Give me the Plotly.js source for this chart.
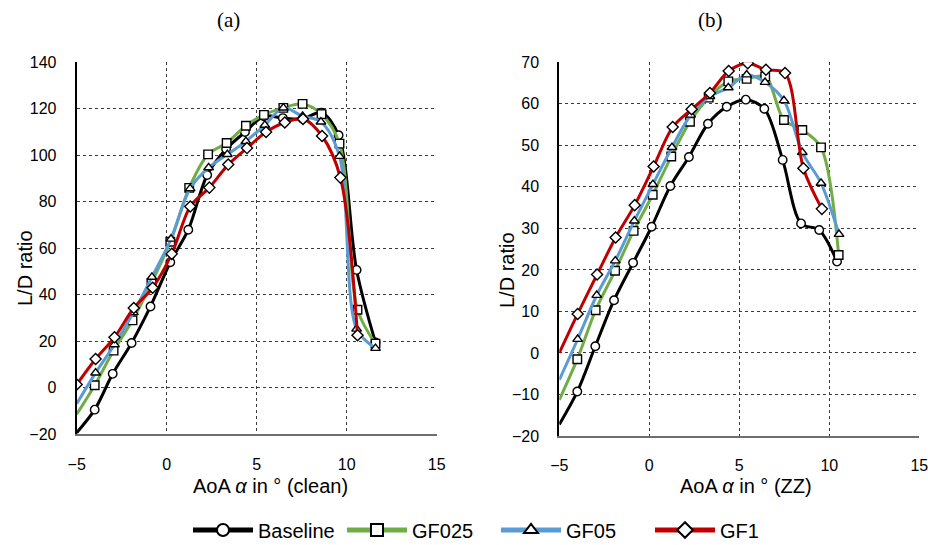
<!DOCTYPE html>
<html>
<head>
<meta charset="utf-8">
<script src="https://cdn.plot.ly/plotly-3.0.1.min.js"></script>
<style>html,body{margin:0;padding:0;background:#fff;}#chart{width:928px;height:545px;}</style>
</head>
<body>
<div id="chart"></div>
<script>
// ---- (a) clean ----
const cleanBaseX = [-5, -4, -3, -1.95, -0.9, 0.2, 1.2, 2.25, 3.3, 4.35, 5.4, 6.45, 7.55, 8.6, 9.55, 10.55, 11.6];
const cleanBaseY = [-19.3, -9.4, 6.0, 19.3, 35.0, 54.0, 68.0, 91.5, 102.7, 110.0, 116.8, 116.0, 115.7, 118.3, 108.6, 50.7, 19.5];
const cleanGF025X = [-5, -4, -2.95, -1.9, -0.85, 0.2, 1.25, 2.3, 3.33, 4.4, 5.4, 6.48, 7.55, 8.6, 9.6, 10.6, 11.6];
const cleanGF025Y = [-11.4, 1.1, 16.0, 29.0, 45.0, 62.8, 86.0, 100.4, 105.3, 112.7, 117.4, 120.4, 122.1, 117.7, 105.0, 33.6, 19.0];
const cleanGF05X = [-5, -3.95, -2.9, -1.85, -0.82, 0.24, 1.3, 2.33, 3.37, 4.4, 5.45, 6.48, 7.55, 8.57, 9.6, 10.55, 11.6];
const cleanGF05Y = [-6.9, 6.4, 18.6, 32.4, 47.6, 64.0, 85.7, 94.7, 100.4, 106.0, 113.0, 120.4, 116.8, 114.4, 99.6, 25.3, 17.0];
const cleanGF1X = [-5, -3.95, -2.9, -1.83, -0.78, 0.28, 1.31, 2.37, 3.42, 4.46, 5.52, 6.56, 7.57, 8.63, 9.65, 10.6];
const cleanGF1Y = [1.4, 12.4, 21.7, 34.3, 43.0, 57.6, 78.0, 86.1, 96.0, 103.1, 110.0, 114.1, 115.6, 108.3, 90.4, 22.6];

// ---- (b) ZZ ----
const zzBaseX = [-5, -4, -3, -1.96, -0.9, 0.13, 1.17, 2.2, 3.26, 4.3, 5.36, 6.39, 7.41, 8.43, 9.44, 10.43];
const zzBaseY = [-17.2, -9.3, 1.6, 12.7, 21.7, 30.4, 40.2, 47.2, 55.2, 59.3, 61.0, 58.8, 46.5, 31.2, 29.6, 22.0];
const zzGF025X = [-5, -4, -2.98, -1.9, -0.87, 0.19, 1.22, 2.26, 3.3, 4.39, 5.41, 6.44, 7.48, 8.5, 9.54, 10.52];
const zzGF025Y = [-11.3, -1.5, 10.3, 19.8, 29.4, 38.1, 47.3, 55.7, 61.5, 65.4, 66.0, 66.6, 56.1, 53.7, 49.5, 23.6];
const zzGF05X = [-5, -3.98, -2.92, -1.89, -0.83, 0.2, 1.26, 2.3, 3.37, 4.39, 5.41, 6.43, 7.48, 8.5, 9.54, 10.54];
const zzGF05Y = [-6.5, 3.3, 13.9, 22.2, 31.8, 40.6, 49.5, 57.3, 61.8, 63.9, 67.0, 65.2, 60.8, 48.3, 40.9, 28.6];
const zzGF1X = [-5, -3.98, -2.9, -1.87, -0.81, 0.24, 1.3, 2.35, 3.37, 4.41, 5.47, 6.48, 7.54, 8.56, 9.59];
const zzGF1Y = [0, 9.4, 18.9, 27.8, 35.6, 44.9, 54.4, 58.7, 62.6, 67.9, 69.8, 68.2, 67.4, 44.5, 34.7];

const seriesNames = ["Baseline", "GF025", "GF05", "GF1"];
const seriesColors = ["#000000", "#70AD47", "#5B9BD5", "#C00000"];
const seriesSymbols = ["circle", "square", "triangle-up", "diamond"];

const FONT = "Liberation Sans, Arial, sans-serif";

function sizes(n, hideFirst) {
  const s = [];
  for (let i = 0; i < n; i++) s.push(i === 0 && hideFirst ? 0 : 8.5);
  return s;
}

function mk(x, y, k, xa, ya, legend, hideFirst) {
  return {
    x: x, y: y, xaxis: xa, yaxis: ya,
    type: "scatter", mode: "lines+markers",
    name: seriesNames[k], showlegend: legend, legendgroup: seriesNames[k],
    line: {color: seriesColors[k], width: 3, shape: "spline", smoothing: 0.9},
    marker: {symbol: seriesSymbols[k], size: sizes(x.length, hideFirst), color: "rgb(255,255,255)",
             opacity: 1, line: {color: "#000000", width: 1.4}},
    cliponaxis: true
  };
}

const data = [
  mk(cleanBaseX, cleanBaseY, 0, "x", "y", true, true),
  mk(cleanGF025X, cleanGF025Y, 1, "x", "y", true, true),
  mk(cleanGF05X, cleanGF05Y, 2, "x", "y", true, true),
  mk(cleanGF1X, cleanGF1Y, 3, "x", "y", true, false),
  mk(zzBaseX, zzBaseY, 0, "x2", "y2", false, true),
  mk(zzGF025X, zzGF025Y, 1, "x2", "y2", false, true),
  mk(zzGF05X, zzGF05Y, 2, "x2", "y2", false, true),
  mk(zzGF1X, zzGF1Y, 3, "x2", "y2", false, true)
];

const W = 928, H = 545;
const px = v => v / W;
const py = v => 1 - v / H;

function xax(domain, anchor) {
  return {
    domain: domain, anchor: anchor, range: [-5, 15], dtick: 5, tick0: 0,
    showgrid: true, gridcolor: "#3a3a3a", griddash: "dot", gridwidth: 1,
    zeroline: false, showline: true, linecolor: "#6e6e6e", linewidth: 2,
    ticks: "", ticklabelstandoff: 14, ticklabeloverflow: "allow",
    tickfont: {family: FONT, size: 16, color: "#000"}
  };
}
function yax(domain, anchor, range, dtick) {
  return {
    domain: domain, anchor: anchor, range: range, dtick: dtick,
    showgrid: true, gridcolor: "#3a3a3a", griddash: "dot", gridwidth: 1,
    zeroline: false, showline: true, linecolor: "#000", linewidth: 2,
    ticks: "", ticklabelstandoff: 15, ticklabeloverflow: "allow",
    tickfont: {family: FONT, size: 16, color: "#000"}
  };
}

function ann(text, x, y, size, family, angle) {
  return {text: text, x: px(x), y: py(y), xref: "paper", yref: "paper", showarrow: false,
          xanchor: "center", yanchor: "middle", textangle: angle || 0,
          font: {family: family || FONT, size: size, color: "#000"}};
}

const SERIF = "Liberation Serif, Times New Roman, serif";

const layout = {
  width: W, height: H,
  margin: {l: 0, r: 0, t: 0, b: 0, autoexpand: false},
  paper_bgcolor: "#fff", plot_bgcolor: "#fff",
  font: {family: FONT, color: "#000"},
  xaxis: xax([px(76.7), px(436.7)], "y"),
  yaxis: yax([py(434.3), py(62.3)], "x", [-20, 140], 20),
  xaxis2: xax([px(559.3), px(919.3)], "y2"),
  yaxis2: yax([py(436), py(62.3)], "x2", [-20, 70], 10),
  showlegend: true,
  legend: {orientation: "h", x: px(188), xanchor: "left", y: py(530), yanchor: "middle",
           font: {family: FONT, size: 20, color: "#000"}, itemwidth: 60, entrywidth: 79,
           itemsizing: "constant", bgcolor: "rgba(0,0,0,0)"},
  annotations: [
    ann("(a)", 228, 20, 21, SERIF),
    ann("(b)", 710, 20, 21, SERIF),
    ann("AoA <i>α</i> in ° (clean)", 270, 486, 20),
    ann("AoA <i>α</i> in ° (ZZ)", 746, 486, 20),
    ann("L/D ratio", 25, 268, 20, FONT, -90),
    ann("L/D ratio", 507, 270, 20, FONT, -90)
  ]
};

Plotly.newPlot("chart", data, layout, {displayModeBar: false, staticPlot: true});
</script>
</body>
</html>
